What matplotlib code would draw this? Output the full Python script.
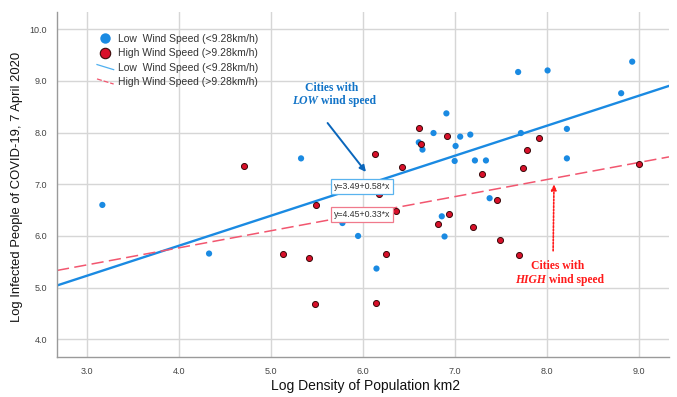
import matplotlib
matplotlib.use("Agg")
import matplotlib.pyplot as plt
from matplotlib.lines import Line2D
from matplotlib.legend_handler import HandlerBase
import numpy as np

plt.rcParams['font.family'] = ['Liberation Sans', 'DejaVu Sans']

# ---- data ----
low_x = [3.17, 4.33, 5.33, 5.78, 5.95, 6.15, 6.61, 6.65, 6.77, 6.91, 7.00, 7.01, 7.06,
         7.17, 7.22, 7.34, 6.86, 6.89, 7.38, 7.69, 7.72, 8.01, 8.22, 8.22, 8.81, 8.93]
low_y = [6.60, 5.66, 7.50, 6.25, 6.00, 5.37, 7.81, 7.67, 7.99, 8.37, 7.45, 7.74, 7.92,
         7.96, 7.46, 7.46, 6.38, 5.99, 6.73, 9.17, 7.99, 9.20, 8.07, 7.50, 8.76, 9.37]
high_x = [4.71, 5.13, 5.42, 5.48, 5.49, 6.13, 6.15, 6.18, 6.25, 6.36, 6.43, 6.61, 6.63,
          6.82, 6.92, 6.94, 7.20, 7.30, 7.46, 7.49, 7.70, 7.74, 7.79, 7.92, 9.00]
high_y = [7.36, 5.66, 5.58, 4.69, 6.60, 7.58, 4.70, 6.82, 5.66, 6.49, 7.34, 8.08, 7.77,
          6.23, 7.93, 6.42, 6.17, 7.19, 6.70, 5.93, 5.64, 7.32, 7.67, 7.89, 7.40]
low_fit = (3.49, 0.58)   # intercept, slope
high_fit = (4.45, 0.33)
x_ticks = [3.0, 4.0, 5.0, 6.0, 7.0, 8.0, 9.0]
y_ticks = [4.0, 5.0, 6.0, 7.0, 8.0, 9.0, 10.0]
legend_labels = ["Low  Wind Speed (<9.28km/h)", "High Wind Speed (>9.28km/h)",
                 "Low  Wind Speed (<9.28km/h)", "High Wind Speed (>9.28km/h)"]

BLUE = '#1a8ae2'
RED = '#d8102a'
RED_LINE = '#f2566f'

fig = plt.figure(figsize=(6.77, 3.97), dpi=100)
ax = fig.add_axes([57/677, 1-357/397, (669-57)/677, (357-12)/397])
xmin, xmax = 2.677, 9.33
ax.set_xlim(xmin, xmax)
ax.set_ylim(3.66, 10.33)

ax.set_xticks(x_ticks)
ax.set_yticks(y_ticks)
ax.set_xticklabels([f"{t:.1f}" for t in x_ticks])
ax.set_yticklabels([f"{t:.1f}" for t in y_ticks])
ax.tick_params(length=0, labelsize=6.5, labelcolor='#444444', pad=7)
ax.grid(True, color='#d6d6d6', lw=1.0)
ax.set_axisbelow(True)
for s in ['top', 'right']:
    ax.spines[s].set_visible(False)
for s in ['left', 'bottom']:
    ax.spines[s].set_color('#9a9a9a')
    ax.spines[s].set_linewidth(1.0)

xs = np.array([xmin, xmax])
ax.plot(xs, low_fit[0] + low_fit[1]*xs, color=BLUE, lw=1.7, zorder=2)
ax.plot(xs, high_fit[0] + high_fit[1]*xs, color=RED_LINE, lw=1.1, dashes=(8, 3.5), zorder=2)

ax.scatter(low_x, low_y, s=20, color=BLUE, edgecolor='none', zorder=3)
ax.scatter(high_x, high_y, s=19, color=RED, edgecolor='#3a0a0a', linewidth=0.7, zorder=3)

# equation boxes
ax.text(5.99, 6.96, "y=3.49+0.58*x", fontsize=6.3, ha='center', va='center', color='#333333',
        bbox=dict(boxstyle='square,pad=0.35', fc='white', ec='#59b3ee', lw=0.9), zorder=5)
ax.text(5.99, 6.42, "y=4.45+0.33*x", fontsize=6.3, ha='center', va='center', color='#333333',
        bbox=dict(boxstyle='square,pad=0.35', fc='white', ec='#f07a8c', lw=0.9), zorder=5)

# annotations
TBLUE = '#1173c7'
TRED = '#ff1a1a'
serif = ['Liberation Serif', 'DejaVu Serif']
fs_ann = 8.4
ax.text(5.66, 8.86, "Cities with", fontsize=fs_ann, family=serif, weight='bold', color=TBLUE,
        ha='center', va='center')
ax.text(5.514, 8.61, "LOW", fontsize=fs_ann, family=serif, weight='bold', style='italic',
        color=TBLUE, ha='right', va='center')
ax.text(5.547, 8.61, "wind speed", fontsize=fs_ann, family=serif, weight='bold', color=TBLUE,
        ha='left', va='center')
ax.annotate("", xy=(6.054, 7.195), xytext=(5.60, 8.226),
            arrowprops=dict(arrowstyle='-|>', color='#0a66bb', lw=1.4, mutation_scale=9))

ax.text(8.12, 5.42, "Cities with", fontsize=fs_ann, family=serif, weight='bold', color=TRED,
        ha='center', va='center')
ax.text(7.993, 5.145, "HIGH", fontsize=fs_ann, family=serif, weight='bold', style='italic',
        color=TRED, ha='right', va='center')
ax.text(8.025, 5.145, "wind speed", fontsize=fs_ann, family=serif, weight='bold', color=TRED,
        ha='left', va='center')
ax.annotate("", xy=(8.08, 7.05), xytext=(8.07, 5.66),
            arrowprops=dict(arrowstyle='-|>', color=TRED, lw=1.2, linestyle=(0, (1, 1)),
                            mutation_scale=8))

# legend
class DiagHandler(HandlerBase):
    def create_artists(self, legend, orig, xdescent, ydescent, width, height, fontsize, trans):
        x0 = -xdescent
        x1 = -xdescent + width
        y0 = -ydescent + height*0.85
        y1 = -ydescent + height*0.15
        ln = Line2D([x0, x1], [y0, y1], color=orig.get_color(), lw=orig.get_linewidth(),
                    linestyle=orig.get_linestyle(), transform=trans)
        if orig.get_linestyle() in ('--', 'dashed'):
            ln.set_dashes((4, 1.5))
        return [ln]

h1 = Line2D([], [], marker='o', linestyle='none', color=BLUE, markersize=7.5, markeredgewidth=0)
h2 = Line2D([], [], marker='o', linestyle='none', color=RED, markeredgecolor='#3a0a0a',
            markersize=7.5, markeredgewidth=0.8)
h3 = Line2D([], [], color='#4fb0f0', lw=0.9)
h4 = Line2D([], [], color=RED_LINE, lw=0.9, linestyle='--')
leg = ax.legend([h1, h2, h3, h4], legend_labels, loc='upper left',
                bbox_to_anchor=(97/677, 1-34/397), bbox_transform=fig.transFigure,
                frameon=False, fontsize=7.5, handlelength=1.6, handletextpad=0.45,
                labelspacing=0.42, borderpad=0, borderaxespad=0,
                handler_map={h3: DiagHandler(), h4: DiagHandler()})
for t in leg.get_texts():
    t.set_color('#333333')

fig.text(366/677, 1-386/397, "Log Density of Population km2", fontsize=10, ha='center',
         va='center', color='#111111')
fig.text(17/677, 1-187/397, "Log Infected People of COVID-19, 7 April 2020", fontsize=9.4,
         ha='center', va='center', rotation=90, color='#111111')

fig.savefig("out.png", dpi=100)
